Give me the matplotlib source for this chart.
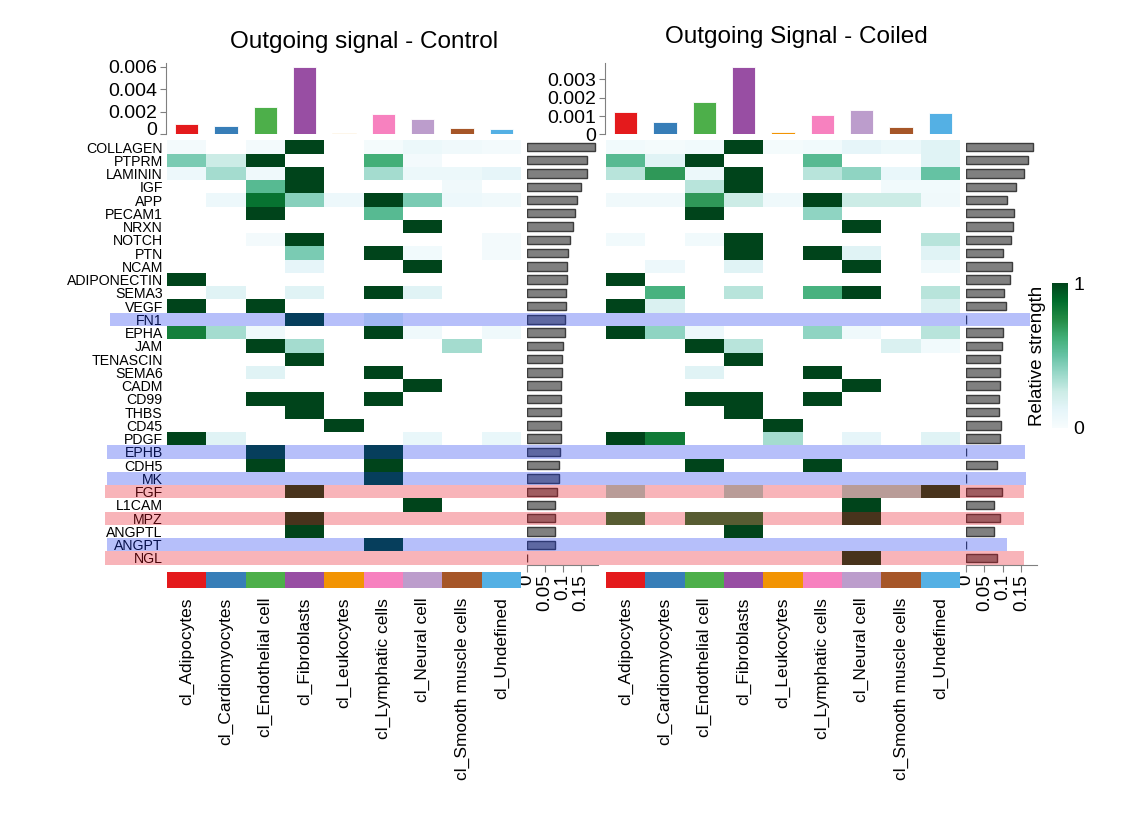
import matplotlib
matplotlib.use("Agg")
import matplotlib.pyplot as plt
import numpy as np
from matplotlib import transforms
from matplotlib.cm import ScalarMappable
from matplotlib.colors import Normalize
from matplotlib.patches import Rectangle

plt.rcParams["font.family"] = ["Liberation Sans", "DejaVu Sans"]

# ---- data ----
pathways = ["COLLAGEN", "PTPRM", "LAMININ", "IGF", "APP", "PECAM1", "NRXN", "NOTCH",
            "PTN", "NCAM", "ADIPONECTIN", "SEMA3", "VEGF", "FN1", "EPHA", "JAM",
            "TENASCIN", "SEMA6", "CADM", "CD99", "THBS", "CD45", "PDGF", "EPHB",
            "CDH5", "MK", "FGF", "L1CAM", "MPZ", "ANGPTL", "ANGPT", "NGL"]

cell_types = ["cl_Adipocytes", "cl_Cardiomyocytes", "cl_Endothelial cell", "cl_Fibroblasts",
              "cl_Leukocytes", "cl_Lymphatic cells", "cl_Neural cell",
              "cl_Smooth muscle cells", "cl_Undefined"]
cell_colors = ["#E41A1C", "#377EB8", "#4DAF4A", "#984EA3", "#F29403",
               "#F781BF", "#BC9DCC", "#A65628", "#54B0E4"]

# relative strength, columns in cell_types order
control_strength = [
    [0.03, 0, 0.03, 1, 0, 0.02, 0.08, 0.05, 0.03],
    [0.45, 0.25, 1, 0, 0, 0.62, 0.03, 0, 0],
    [0.07, 0.35, 0.06, 1, 0, 0.35, 0.08, 0.08, 0.12],
    [0, 0, 0.55, 1, 0, 0, 0, 0.05, 0],
    [0, 0.07, 0.85, 0.42, 0.07, 1, 0.45, 0.07, 0.05],
    [0, 0, 1, 0, 0, 0.55, 0, 0, 0],
    [0, 0, 0, 0, 0, 0, 1, 0, 0],
    [0, 0, 0.03, 1, 0, 0, 0, 0, 0.03],
    [0, 0, 0, 0.45, 0, 1, 0.04, 0, 0.03],
    [0, 0, 0, 0.12, 0, 0, 1, 0, 0],
    [1, 0, 0, 0, 0, 0, 0, 0, 0],
    [0, 0.15, 0, 0.15, 0, 1, 0.15, 0, 0],
    [1, 0, 1, 0, 0, 0, 0, 0, 0],
    [0, 0, 0, 1, 0, 0.15, 0, 0, 0],
    [0.8, 0.35, 0.06, 0, 0, 1, 0.06, 0, 0.06],
    [0, 0, 1, 0.35, 0, 0, 0, 0.35, 0],
    [0, 0, 0, 1, 0, 0, 0, 0, 0],
    [0, 0, 0.15, 0, 0, 1, 0, 0, 0],
    [0, 0, 0, 0, 0, 0, 1, 0, 0],
    [0, 0, 1, 1, 0, 1, 0, 0, 0],
    [0, 0, 0, 1, 0, 0, 0, 0, 0],
    [0, 0, 0, 0, 1, 0, 0, 0, 0],
    [1, 0.15, 0, 0, 0, 0, 0.1, 0, 0.1],
    [0, 0, 1, 0, 0, 1, 0, 0, 0],
    [0, 0, 1, 0, 0, 1, 0, 0, 0],
    [0, 0, 0, 0, 0, 1, 0, 0, 0],
    [0, 0, 0, 1, 0, 0, 0, 0, 0],
    [0, 0, 0, 0, 0, 0, 1, 0, 0],
    [0, 0, 0, 1, 0, 0, 0, 0, 0],
    [0, 0, 0, 1, 0, 0, 0, 0, 0],
    [0, 0, 0, 0, 0, 1, 0, 0, 0],
    [0, 0, 0, 0, 0, 0, 0, 0, 0],
]
coiled_strength = [
    [0.04, 0.02, 0.04, 1, 0.02, 0.04, 0.12, 0.08, 0.15],
    [0.55, 0.15, 1, 0, 0, 0.55, 0, 0, 0.15],
    [0.3, 0.7, 0.08, 1, 0, 0.3, 0.4, 0.1, 0.5],
    [0, 0, 0.3, 1, 0, 0, 0, 0.04, 0.04],
    [0.05, 0.05, 0.7, 0.25, 0.06, 1, 0.25, 0.25, 0.05],
    [0, 0, 1, 0, 0, 0.4, 0, 0, 0],
    [0, 0, 0, 0, 0, 0, 1, 0, 0],
    [0.04, 0, 0.04, 1, 0, 0, 0, 0, 0.3],
    [0, 0, 0, 1, 0, 1, 0.15, 0, 0.15],
    [0, 0.07, 0, 0.15, 0, 0, 1, 0, 0.06],
    [1, 0, 0, 0, 0, 0, 0, 0, 0],
    [0, 0.6, 0, 0.3, 0, 0.6, 1, 0, 0.3],
    [1, 0.18, 0, 0, 0, 0, 0, 0, 0.18],
    [0, 0, 0, 0, 0, 0, 0, 0, 0],
    [1, 0.4, 0.07, 0, 0, 0.4, 0.06, 0, 0.3],
    [0, 0, 1, 0.3, 0, 0, 0, 0.18, 0.04],
    [0, 0, 0, 1, 0, 0, 0, 0, 0],
    [0, 0, 0.15, 0, 0, 1, 0, 0, 0],
    [0, 0, 0, 0, 0, 0, 1, 0, 0],
    [0, 0, 1, 1, 0, 1, 0, 0, 0],
    [0, 0, 0, 1, 0, 0, 0, 0, 0],
    [0, 0, 0, 0, 1, 0, 0, 0, 0],
    [1, 0.82, 0, 0, 0.35, 0, 0.12, 0, 0.15],
    [0, 0, 0, 0, 0, 0, 0, 0, 0],
    [0, 0, 1, 0, 0, 1, 0, 0, 0],
    [0, 0, 0, 0, 0, 0, 0, 0, 0],
    [0.35, 0, 0, 0.35, 0, 0, 0.35, 0.35, 1],
    [0, 0, 0, 0, 0, 0, 1, 0, 0],
    [0.8, 0, 0.8, 0.8, 0, 0, 1, 0, 0],
    [0, 0, 0, 1, 0, 0, 0, 0, 0],
    [0, 0, 0, 0, 0, 0, 0, 0, 0],
    [0, 0, 0, 0, 0, 0, 1, 0, 0],
]

control_pathway_total = [0.189, 0.167, 0.167, 0.150, 0.139, 0.133, 0.127, 0.119, 0.114, 0.112,
                         0.111, 0.108, 0.107, 0.106, 0.105, 0.101, 0.098, 0.096, 0.095, 0.095,
                         0.094, 0.094, 0.094, 0.092, 0.088, 0.088, 0.083, 0.079, 0.079, 0.079,
                         0.079, 0.0]
coiled_pathway_total = [0.182, 0.168, 0.158, 0.135, 0.112, 0.130, 0.128, 0.121, 0.099, 0.125,
                        0.119, 0.102, 0.108, 0.0, 0.099, 0.096, 0.093, 0.091, 0.091, 0.089,
                        0.089, 0.095, 0.093, 0.0, 0.084, 0.0, 0.096, 0.075, 0.093, 0.075,
                        0.0, 0.084]

control_cell_total = [0.00095, 0.00077, 0.0024, 0.006, 0.0001, 0.0018, 0.0014, 0.00056, 0.00045]
coiled_cell_total = [0.0012, 0.00066, 0.00175, 0.0037, 0.0001, 0.00104, 0.00133, 0.0004, 0.00118]

# rows marked only in one condition: blue = Control only, pink = Coiled only
blue_rows = {"FN1": (110, 1030), "EPHB": (107, 1025), "MK": (107, 1026), "ANGPT": (107, 1007)}
pink_rows = {"FGF": (105, 1024), "MPZ": (105, 1024), "NGL": (105, 1024)}

W, H = 1143, 819
fig = plt.figure(figsize=(W / 100, H / 100), dpi=100)


def box(x0, y0, x1, y1):
    # pixel box (top-left origin) -> figure fraction rect
    return [x0 / W, 1 - y1 / H, (x1 - x0) / W, (y1 - y0) / H]


cmap = plt.get_cmap("BuGn")
n_rows, n_cols = len(pathways), len(cell_types)
GRAY = "#808080"


def draw_panel(x0, x1, rx1, strength, totals, tops, top_ticks, top_ymax, rbar_xmax, show_rows):
    hm_top, hm_bot = 140.4, 564.6
    ax = fig.add_axes(box(x0, hm_top, x1, hm_bot))
    data = np.ma.masked_equal(np.array(strength, dtype=float), 0)
    ax.pcolormesh(np.arange(n_cols + 1), np.arange(n_rows + 1), data, cmap=cmap, vmin=0, vmax=1)
    ax.set_xlim(0, n_cols)
    ax.set_ylim(n_rows, 0)
    for s in ax.spines.values():
        s.set_visible(False)
    ax.set_xticks([])
    if show_rows:
        ax.set_yticks(np.arange(n_rows) + 0.5)
        ax.set_yticklabels(pathways)
        ax.tick_params(axis="y", length=0, pad=3, labelsize=10.2)
    else:
        ax.set_yticks([])

    # top bars
    axt = fig.add_axes(box(x0, 63.3, x1, 134.3))
    axt.bar(np.arange(n_cols) + 0.5, tops, width=0.6, color=cell_colors,
            edgecolor="white", linewidth=0.6)
    axt.set_xlim(0, n_cols)
    axt.set_ylim(0, top_ymax)
    for k in ("top", "right", "bottom"):
        axt.spines[k].set_visible(False)
    axt.spines["left"].set_color(GRAY)
    axt.spines["left"].set_position(("outward", 1))
    axt.set_xticks([])
    axt.set_yticks(top_ticks)
    axt.set_yticklabels(["0"] + [f"{t:g}" for t in top_ticks[1:]])
    axt.tick_params(axis="y", colors=GRAY, labelcolor="black", length=4, pad=2, labelsize=14)
    if show_rows:
        # nudge the "0" label up a little so it clears the first row name
        zero = axt.get_yticklabels()[0]
        zero.set_transform(zero.get_transform() +
                           transforms.ScaledTranslation(0, 4 / 72, fig.dpi_scale_trans))

    # right bars
    axr = fig.add_axes(box(x1 + 6, hm_top, rx1, hm_bot))
    axr.barh(np.arange(n_rows) + 0.5, totals, height=0.63, color=GRAY,
             edgecolor="#3c3c3c", linewidth=1.0)
    axr.set_ylim(n_rows, 0)
    axr.set_xlim(0, rbar_xmax)
    for k in ("top", "right", "left"):
        axr.spines[k].set_visible(False)
    axr.spines["bottom"].set_color(GRAY)
    axr.set_yticks([])
    axr.set_xticks([0, 0.05, 0.1, 0.15])
    axr.set_xticklabels(["0", "0.05", "0.1", "0.15"], rotation=90)
    axr.tick_params(axis="x", colors=GRAY, labelcolor="black", length=5, pad=2, labelsize=13.5)

    # cell-type colour strip
    axs = fig.add_axes(box(x0, 572, x1, 588))
    axs.bar(np.arange(n_cols) + 0.5, 1, width=1.0, color=cell_colors, linewidth=0)
    axs.set_xlim(0, n_cols)
    axs.set_ylim(0, 1)
    axs.set_yticks([])
    axs.set_xticks(np.arange(n_cols) + 0.5)
    axs.set_xticklabels(cell_types, rotation=90)
    axs.tick_params(axis="x", length=0, pad=7, labelsize=12.5)
    for s in axs.spines.values():
        s.set_visible(False)
    return ax


ax_ctrl = draw_panel(167, 521, 598, control_strength, control_pathway_total, control_cell_total,
                     [0, 0.002, 0.004, 0.006], 0.0063, 0.197, True)
ax_coil = draw_panel(606, 960, 1037, coiled_strength, coiled_pathway_total, coiled_cell_total,
                     [0, 0.001, 0.002, 0.003], 0.00388, 0.192, False)

fig.text(364 / W, 1 - 42 / H, "Outgoing signal - Control", ha="center", va="center", fontsize=17.5)
fig.text(796 / W, 1 - 37 / H, "Outgoing Signal - Coiled", ha="center", va="center", fontsize=17.5)

# colorbar
cax = fig.add_axes(box(1052, 283, 1068, 428))
cb = fig.colorbar(ScalarMappable(norm=Normalize(0, 1), cmap=cmap), cax=cax, ticks=[0, 1])
cb.outline.set_visible(False)
cb.ax.tick_params(length=0, labelsize=14, pad=4)
cb.set_label("Relative strength", fontsize=13.5, labelpad=4)
cb.ax.yaxis.set_label_position("left")

# highlight bands across both panels
trans = transforms.blended_transform_factory(fig.transFigure, ax_ctrl.transData)
for rows, color in ((blue_rows, (0.08, 0.2, 0.94)), (pink_rows, (0.92, 0.06, 0.12))):
    for name, (xa, xb) in rows.items():
        i = pathways.index(name)
        rect = Rectangle((xa / W, i), (xb - xa) / W, 1, transform=trans,
                         facecolor=color, alpha=0.31, linewidth=0, zorder=5)
        fig.add_artist(rect)

fig.savefig("out.png", dpi=100)
